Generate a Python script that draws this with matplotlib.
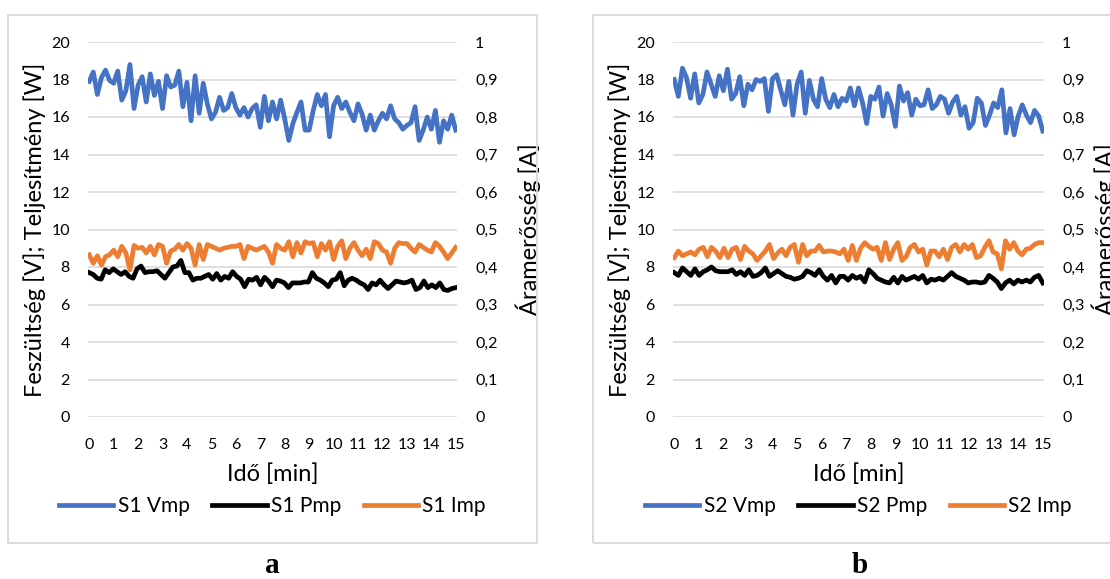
import numpy as np
import matplotlib
matplotlib.use("Agg")
import matplotlib.pyplot as plt
from matplotlib.patches import Rectangle
from matplotlib.ticker import FixedLocator, FuncFormatter

plt.rcParams['font.family'] = ['Lato', 'DejaVu Sans']

# ---------------- data ----------------
s1_vmp = [17.9, 18.4, 17.2, 18.1, 18.5, 17.95, 17.8, 18.45, 16.9, 17.4, 18.8, 16.45, 17.7, 18.15,
          16.8, 18.3, 17.15, 17.9, 16.45, 18.2, 17.6, 17.7, 18.45, 16.55, 17.85, 15.8, 18.2, 16.2,
          17.8, 16.7, 15.9, 16.25, 17.05, 16.35, 16.5, 17.25, 16.5, 16.1, 16.5, 16.0, 16.45, 16.65,
          15.45, 17.1, 15.8, 16.8, 15.9, 16.9, 15.9, 14.75, 15.65, 16.25, 16.8, 15.3, 15.3, 16.35,
          17.2, 16.6, 17.2, 14.95, 16.6, 17.05, 16.45, 16.8, 16.25, 15.8, 16.7, 16.15, 15.3, 16.1,
          15.3, 15.8, 16.2, 15.9, 16.6, 15.9, 15.7, 15.35, 15.55, 15.7, 16.55, 14.75, 15.3, 16.0,
          15.35, 16.35, 14.65, 15.8, 15.35, 16.1, 15.3]
s1_pmp = [7.7, 7.6, 7.4, 7.35, 7.85, 7.7, 7.9, 7.75, 7.6, 7.75, 7.5, 7.4, 7.9, 8.05, 7.7, 7.75,
          7.75, 7.8, 7.6, 7.4, 7.7, 8.0, 8.05, 8.35, 7.7, 7.7, 7.3, 7.4, 7.4, 7.5, 7.6, 7.35, 7.65,
          7.3, 7.5, 7.4, 7.75, 7.5, 7.35, 6.95, 7.35, 7.3, 7.45, 7.05, 7.45, 7.25, 6.95, 7.3, 7.25,
          7.15, 6.9, 7.15, 7.15, 7.15, 7.2, 7.2, 7.7, 7.4, 7.3, 7.15, 6.95, 7.3, 7.35, 7.7, 7.0, 7.3,
          7.4, 7.3, 7.15, 7.05, 6.8, 7.15, 7.05, 7.3, 7.05, 6.85, 7.05, 7.25, 7.2, 7.15, 7.2, 7.3,
          6.8, 6.9, 7.25, 6.9, 7.05, 6.9, 7.15, 6.8, 6.75, 6.85, 6.9]
s1_imp = [0.4325, 0.41, 0.43, 0.405, 0.4275, 0.4325, 0.445, 0.4275, 0.455, 0.4375, 0.3925, 0.4575,
          0.45, 0.4525, 0.4375, 0.455, 0.4325, 0.46, 0.455, 0.41, 0.4425, 0.4475, 0.46, 0.445,
          0.4625, 0.45, 0.405, 0.46, 0.42, 0.46, 0.455, 0.45, 0.445, 0.45, 0.4525, 0.455, 0.455,
          0.46, 0.4225, 0.455, 0.45, 0.445, 0.45, 0.455, 0.44, 0.41, 0.46, 0.45, 0.445, 0.4675,
          0.4275, 0.465, 0.4375, 0.4675, 0.4625, 0.465, 0.4275, 0.4625, 0.445, 0.4675, 0.42, 0.455,
          0.47, 0.4225, 0.45, 0.465, 0.445, 0.43, 0.4475, 0.4225, 0.4675, 0.4625, 0.445, 0.44, 0.41,
          0.45, 0.465, 0.4625, 0.4625, 0.45, 0.44, 0.46, 0.4525, 0.445, 0.44, 0.465, 0.455, 0.44,
          0.4225, 0.4375, 0.4525]

s2_vmp = [18.0, 17.1, 18.6, 18.1, 17.0, 18.3, 16.75, 17.2, 18.4, 17.75, 17.1, 18.2, 17.4, 18.55,
          16.95, 17.25, 18.15, 16.6, 17.75, 17.45, 18.0, 17.9, 18.05, 16.3, 18.05, 18.25, 17.45,
          16.65, 17.9, 16.1, 17.75, 18.4, 16.2, 17.95, 16.95, 16.55, 18.05, 16.95, 16.5, 17.2, 16.55,
          17.0, 16.85, 17.55, 16.6, 17.55, 16.75, 15.65, 17.1, 16.95, 17.6, 16.05, 17.25, 16.65,
          15.5, 17.65, 16.85, 17.3, 16.1, 16.95, 16.6, 16.65, 17.45, 16.45, 16.65, 17.1, 16.95,
          16.2, 16.8, 17.1, 16.1, 16.55, 15.4, 15.7, 17.0, 16.75, 15.55, 16.1, 16.75, 16.5, 17.45,
          15.15, 16.45, 15.05, 16.05, 16.65, 16.1, 15.7, 16.35, 16.05, 15.25]
s2_pmp = [7.7, 7.55, 7.95, 7.75, 7.55, 7.9, 7.55, 7.75, 7.85, 8.0, 7.8, 7.75, 7.75, 7.75, 7.85,
          7.6, 7.75, 7.55, 7.85, 7.5, 7.55, 7.7, 7.95, 7.5, 7.65, 7.8, 7.65, 7.5, 7.45, 7.35, 7.4,
          7.5, 7.8, 7.7, 7.55, 7.85, 7.5, 7.3, 7.55, 7.15, 7.5, 7.5, 7.3, 7.55, 7.4, 7.5, 7.2, 7.85,
          7.65, 7.4, 7.3, 7.2, 7.15, 7.45, 7.15, 7.5, 7.3, 7.4, 7.5, 7.35, 7.55, 7.15, 7.35, 7.3,
          7.4, 7.3, 7.5, 7.7, 7.5, 7.4, 7.3, 7.15, 7.2, 7.2, 7.15, 7.2, 7.55, 7.4, 7.2, 6.85, 7.15,
          7.3, 7.1, 7.3, 7.2, 7.3, 7.2, 7.45, 7.55, 7.15]
s2_imp = [0.425, 0.4425, 0.43, 0.435, 0.44, 0.4325, 0.4475, 0.4525, 0.4275, 0.4525, 0.4425, 0.425,
          0.45, 0.425, 0.4475, 0.4525, 0.42, 0.455, 0.4425, 0.435, 0.4175, 0.43, 0.4425, 0.46,
          0.4225, 0.4375, 0.4475, 0.43, 0.4525, 0.46, 0.4125, 0.46, 0.43, 0.4425, 0.4425, 0.4575,
          0.44, 0.4425, 0.4425, 0.44, 0.435, 0.4475, 0.4175, 0.4575, 0.4175, 0.45, 0.465, 0.455,
          0.4475, 0.4525, 0.4175, 0.465, 0.42, 0.4475, 0.465, 0.4175, 0.4275, 0.4525, 0.46, 0.44,
          0.4475, 0.405, 0.4425, 0.4425, 0.4275, 0.4475, 0.42, 0.4525, 0.46, 0.44, 0.46, 0.4475,
          0.46, 0.425, 0.43, 0.4525, 0.47, 0.44, 0.435, 0.395, 0.47, 0.4475, 0.465, 0.4425, 0.4325,
          0.4475, 0.45, 0.46, 0.465, 0.465]

x_ticks = list(range(16))
left_ticks = [0, 2, 4, 6, 8, 10, 12, 14, 16, 18, 20]
right_ticks = [0, 0.1, 0.2, 0.3, 0.4, 0.5, 0.6, 0.7, 0.8, 0.9, 1.0]

BLUE = "#4472C4"
ORANGE = "#ED7D31"
GRID = "#D9D9D9"

W, H = 1110, 579
fig = plt.figure(figsize=(W / 100, H / 100), dpi=100)


def comma(v, pos):
    if abs(v - round(v)) < 1e-9:
        return str(int(round(v)))
    return f"{v:.1f}".replace(".", ",")


def panel(x0, x1, vmp, pmp, imp, tag, rpad):
    ax = fig.add_axes([x0 / W, 1 - 417 / H, (x1 - x0) / W, 375 / H])
    ax2 = ax.twinx()

    t_v = np.linspace(0, 15, len(vmp))
    t_p = np.linspace(0, 15, len(pmp))
    t_i = np.linspace(0, 15, len(imp))
    l1, = ax.plot(t_v, vmp, color=BLUE, lw=3.4, solid_joinstyle="round", label=f"{tag} Vmp")
    l2, = ax.plot(t_p, pmp, color="black", lw=3.4, solid_joinstyle="round", label=f"{tag} Pmp")
    l3, = ax2.plot(t_i, imp, color=ORANGE, lw=3.4, solid_joinstyle="round", label=f"{tag} Imp")

    ax.set_xlim(-0.05, 15.05)
    ax.set_ylim(0, 20)
    ax2.set_ylim(0, 1)
    ax.xaxis.set_major_locator(FixedLocator(x_ticks))
    ax.yaxis.set_major_locator(FixedLocator(left_ticks))
    ax2.yaxis.set_major_locator(FixedLocator(right_ticks))
    ax2.yaxis.set_major_formatter(FuncFormatter(comma))

    ax.grid(axis="y", color=GRID, lw=1.2)
    ax.set_axisbelow(True)
    for a in (ax, ax2):
        for s in a.spines.values():
            s.set_visible(False)
    ax.tick_params(axis="x", length=0, pad=15, labelsize=11.5)
    ax.tick_params(axis="y", length=0, pad=13, labelsize=11.5)
    ax2.tick_params(axis="y", length=0, pad=13, labelsize=11.5)

    ax.set_xlabel("Idő [min]", fontsize=17, labelpad=8)
    ax.set_ylabel("Feszültség [V]; Teljesítmény [W]", fontsize=17, labelpad=4)
    ax2.set_ylabel("Áramerősség [A]", fontsize=17, rotation=90, labelpad=rpad)

    cx = (x0 + x1) / 2
    fig.legend([l1, l2, l3], [l1.get_label(), l2.get_label(), l3.get_label()],
               loc="center", bbox_to_anchor=(cx / W, 1 - 506 / H), ncol=3, frameon=False,
               fontsize=15, handlelength=2.6, handletextpad=0.2, columnspacing=1.1)
    return ax


panel(88, 457, s1_vmp, s1_pmp, s1_imp, "S1", 13)
panel(673, 1044, s2_vmp, s2_pmp, s2_imp, "S2", 5)

# panel frames
for bx0, bx1 in [(7.5, 537), (593, 1120)]:
    fig.add_artist(Rectangle((bx0 / W, 1 - 543 / H), (bx1 - bx0) / W, (543 - 14.5) / H,
                             transform=fig.transFigure, fill=False, edgecolor=GRID, lw=1.3))

fig.text(272 / W, 1 - 573 / H, "a", family="Liberation Serif", weight="bold",
         fontsize=21, ha="center", va="baseline")
fig.text(860 / W, 1 - 573 / H, "b", family="Liberation Serif", weight="bold",
         fontsize=21, ha="center", va="baseline")

fig.savefig("out.png", dpi=100, facecolor="white")
